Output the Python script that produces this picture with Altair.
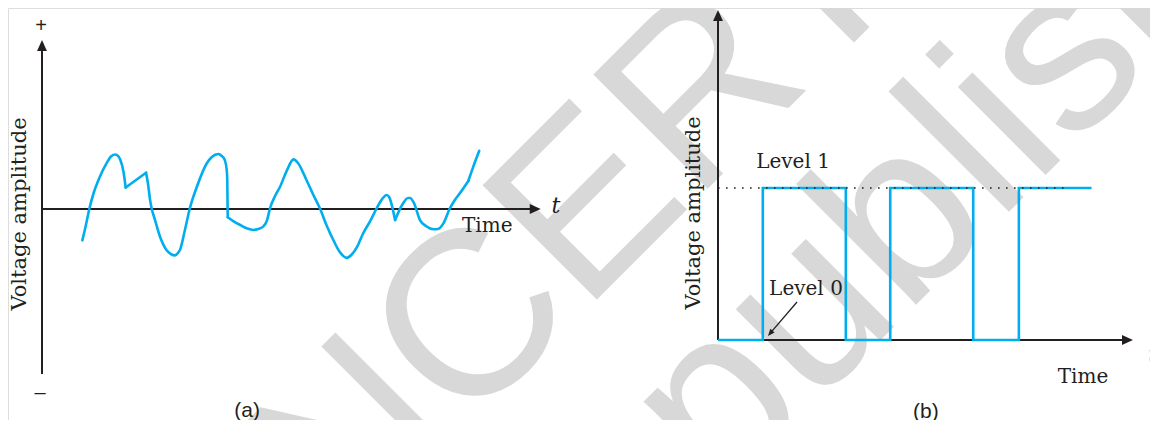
import altair as alt
import pandas as pd

# ---------------- data ----------------
# Panel (a): analog signal, time (0-10) vs voltage (-1..1); split in smooth segments between cusps
seg_a = [1]*12 + [2]*2 + [3]*23 + [4]*30 + [5]*14 + [6]*3
time_a = [0.81, 0.88, 0.95, 1.04, 1.14, 1.30, 1.39, 1.47, 1.53, 1.57, 1.64, 1.68,
          1.68, 2.09,
          2.09, 2.13, 2.17, 2.20, 2.27, 2.37, 2.50, 2.59, 2.67, 2.73, 2.77, 2.87, 2.97,
          3.11, 3.31, 3.41, 3.54, 3.61, 3.67, 3.71, 3.72, 3.725, 3.73,
          3.73, 3.84, 3.98, 4.12, 4.24, 4.34, 4.44, 4.52, 4.58, 4.68, 4.78, 4.92, 5.05,
          5.14, 5.31, 5.44, 5.58, 5.72, 5.85, 5.98, 6.12, 6.21, 6.33, 6.45, 6.59, 6.72,
          6.83, 6.92, 6.97, 7.09,
          7.09, 7.23, 7.35, 7.39, 7.47, 7.59, 7.71, 7.86, 7.95, 8.06, 8.19, 8.29, 8.39, 8.56,
          8.56, 8.65, 8.78]
volt_a = [-0.19, -0.10, 0.00, 0.10, 0.18, 0.28, 0.32, 0.33, 0.32, 0.30, 0.22, 0.13,
          0.13, 0.22,
          0.22, 0.15, 0.055, 0.006, -0.067, -0.168, -0.248, -0.273, -0.281, -0.267, -0.248,
          -0.127, 0.006, 0.135, 0.277, 0.315, 0.333, 0.321, 0.297, 0.236, 0.176, 0.055, -0.05,
          -0.05, -0.073, -0.097, -0.118, -0.127, -0.121, -0.107, -0.067, 0.006, 0.079, 0.135,
          0.236, 0.301, 0.279, 0.176, 0.091, 0.004, -0.103, -0.188, -0.261, -0.296, -0.279,
          -0.228, -0.147, -0.073, 0.004, 0.06, 0.085, 0.073, -0.067,
          -0.067, 0.024, 0.067, 0.067, 0.036, -0.067, -0.103, -0.123, -0.121, -0.087, 0.004,
          0.055, 0.095, 0.170,
          0.170, 0.248, 0.353]

# Panel (b): digital signal, step after each time point
time_b = [0.0, 1.08, 3.08, 4.15, 6.15, 7.25, 9.0]
level_b = [0, 1, 0, 1, 0, 1, 1]

# axis / annotation labels
texts_a = ["+", "\u2013", "t", "Time", "(a)"]
texts_b = ["Level 1", "Level 0", "t", "Time", "(b)"]

# watermark (positions in panel-b units)
wm_text = ["NCERT", "republished"]
wm_t = [-2.17, 6.85]
wm_v = [0.47, 0.80]

BLUE = "#00aeef"
INK = "#231f20"
SERIF = "DejaVu Serif"
SANS = "Liberation Sans"

# ---------------- scales ----------------
xa = alt.Scale(domain=[0, 10], range=[34, 532])
ya = alt.Scale(domain=[-1, 1], range=[366, 36])
xb = alt.Scale(domain=[0, 10], range=[710, 1125])
yb = alt.Scale(domain=[0, 1], range=[332, 180])

def XA(f):
    return alt.X(f, type="quantitative", scale=xa, axis=None)
def YA(f):
    return alt.Y(f, type="quantitative", scale=ya, axis=None)
def XB(f):
    return alt.X(f, type="quantitative", scale=xb, axis=None)
def YB(f):
    return alt.Y(f, type="quantitative", scale=yb, axis=None)

layers = []

# watermark (behind everything)
wm = pd.DataFrame({"t": wm_t, "v": wm_v, "s": wm_text})
layers.append(alt.Chart(wm).mark_text(font=SANS, fontSize=235, angle=315, align="center",
                                      baseline="alphabetic", color="#d8d8d8")
              .encode(x=XB("t"), y=YB("v"), text="s:N"))

# ---- panel (a) axes ----
layers.append(alt.Chart(pd.DataFrame({"t": [0], "v": [-1.0], "v2": [0.99]}))
              .mark_rule(color=INK, strokeWidth=2)
              .encode(x=XA("t"), y=YA("v"), y2="v2"))
layers.append(alt.Chart(pd.DataFrame({"t": [0], "t2": [9.9], "v": [0]}))
              .mark_rule(color=INK, strokeWidth=2)
              .encode(x=XA("t"), x2="t2", y=YA("v")))
layers.append(alt.Chart(pd.DataFrame({"t": [0], "v": [0.991]}))
              .mark_point(shape="M0,-1L0.9,1L-0.9,1Z", size=121, filled=True, color=INK, opacity=1)
              .encode(x=XA("t"), y=YA("v")))
layers.append(alt.Chart(pd.DataFrame({"t": [9.904], "v": [0]}))
              .mark_point(shape="M1,0L-1,0.9L-1,-0.9Z", size=121, filled=True, color=INK, opacity=1)
              .encode(x=XA("t"), y=YA("v")))

# analog wave
wa = pd.DataFrame({"t": time_a, "v": volt_a, "seg": seg_a, "o": list(range(len(time_a)))})
layers.append(alt.Chart(wa).mark_line(color=BLUE, strokeWidth=2.6, interpolate="monotone",
                                      strokeCap="round", strokeJoin="round")
              .encode(x=XA("t"), y=YA("v"), detail="seg:N", order="o:Q"))

# panel (a) texts
ta = pd.DataFrame({"t": [-0.02, -0.04, 10.32, 8.94, 4.12],
                   "v": [1.109, -1.115, 0.018, -0.103, -1.224],
                   "s": texts_a})
layers.append(alt.Chart(ta.iloc[[0, 1]]).mark_text(font=SANS, fontSize=20, color=INK, baseline="middle")
              .encode(x=XA("t"), y=YA("v"), text="s:N"))
layers.append(alt.Chart(ta.iloc[[2]]).mark_text(font=SERIF, fontSize=22, fontStyle="italic", color=INK, baseline="middle")
              .encode(x=XA("t"), y=YA("v"), text="s:N"))
layers.append(alt.Chart(ta.iloc[[3]]).mark_text(font=SERIF, fontSize=20, color=INK, baseline="middle")
              .encode(x=XA("t"), y=YA("v"), text="s:N"))
layers.append(alt.Chart(ta.iloc[[4]]).mark_text(font=SANS, fontSize=21, color=INK, baseline="middle")
              .encode(x=XA("t"), y=YA("v"), text="s:N"))
layers.append(alt.Chart(pd.DataFrame({"t": [-0.442], "v": [-0.03], "s": ["Voltage amplitude"]}))
              .mark_text(font=SERIF, fontSize=21, color=INK, angle=270, baseline="middle")
              .encode(x=XA("t"), y=YA("v"), text="s:N"))

# ---- panel (b) axes ----
layers.append(alt.Chart(pd.DataFrame({"t": [0], "v": [0], "v2": [2.13]}))
              .mark_rule(color=INK, strokeWidth=2)
              .encode(x=XB("t"), y=YB("v"), y2="v2"))
layers.append(alt.Chart(pd.DataFrame({"t": [0], "t2": [9.86], "v": [0]}))
              .mark_rule(color=INK, strokeWidth=2)
              .encode(x=XB("t"), x2="t2", y=YB("v")))
layers.append(alt.Chart(pd.DataFrame({"t": [0], "v": [2.135]}))
              .mark_point(shape="M0,-1L0.9,1L-0.9,1Z", size=121, filled=True, color=INK, opacity=1)
              .encode(x=XB("t"), y=YB("v")))
layers.append(alt.Chart(pd.DataFrame({"t": [9.867], "v": [0]}))
              .mark_point(shape="M1,0L-1,0.9L-1,-0.9Z", size=121, filled=True, color=INK, opacity=1)
              .encode(x=XB("t"), y=YB("v")))

# digital wave
wb = pd.DataFrame({"t": time_b, "v": level_b})
layers.append(alt.Chart(wb).mark_line(color=BLUE, strokeWidth=2.6, interpolate="step-after")
              .encode(x=XB("t"), y=YB("v")))

# dotted level-1 line
layers.append(alt.Chart(pd.DataFrame({"t": [0], "t2": [8.41], "v": [1.0]}))
              .mark_rule(color=INK, strokeWidth=1.6, strokeDash=[1.6, 6.4])
              .encode(x=XB("t"), x2="t2", y=YB("v")))

# Level 0 arrow
layers.append(alt.Chart(pd.DataFrame({"t": [1.904], "v": [0.25], "t2": [1.26], "v2": [0.045]}))
              .mark_rule(color=INK, strokeWidth=1.3)
              .encode(x=XB("t"), y=YB("v"), x2="t2", y2="v2"))
layers.append(alt.Chart(pd.DataFrame({"t": [1.258], "v": [0.044]}))
              .mark_point(shape="M0,-1L0.8,1L-0.8,1Z", size=49, angle=220, filled=True, color=INK, opacity=1)
              .encode(x=XB("t"), y=YB("v")))

# panel (b) texts
tb = pd.DataFrame({"t": [1.807, 2.12, 10.48, 8.795, 5.01],
                   "v": [1.171, 0.336, -0.099, -0.243, -0.474],
                   "s": texts_b})
layers.append(alt.Chart(tb.iloc[[0, 1, 3]]).mark_text(font=SERIF, fontSize=20, color=INK, baseline="middle")
              .encode(x=XB("t"), y=YB("v"), text="s:N"))
layers.append(alt.Chart(tb.iloc[[2]]).mark_text(font=SERIF, fontSize=22, fontStyle="italic", color=INK, baseline="middle")
              .encode(x=XB("t"), y=YB("v"), text="s:N"))
layers.append(alt.Chart(tb.iloc[[4]]).mark_text(font=SANS, fontSize=21, color=INK, baseline="middle")
              .encode(x=XB("t"), y=YB("v"), text="s:N"))
layers.append(alt.Chart(pd.DataFrame({"t": [-0.578], "v": [0.836], "s": ["Voltage amplitude"]}))
              .mark_text(font=SERIF, fontSize=21, color=INK, angle=270, baseline="middle")
              .encode(x=XB("t"), y=YB("v"), text="s:N"))

chart = (alt.layer(*layers)
         .resolve_scale(x="independent", y="independent")
         .properties(width=1142, height=412, padding=0,
                     autosize=alt.AutoSizeParams(type="none"))
         .configure_view(strokeWidth=0, stroke="transparent")
         .configure(background="white"))

chart.save("out.html", embed_options={"renderer": "svg", "actions": False})
